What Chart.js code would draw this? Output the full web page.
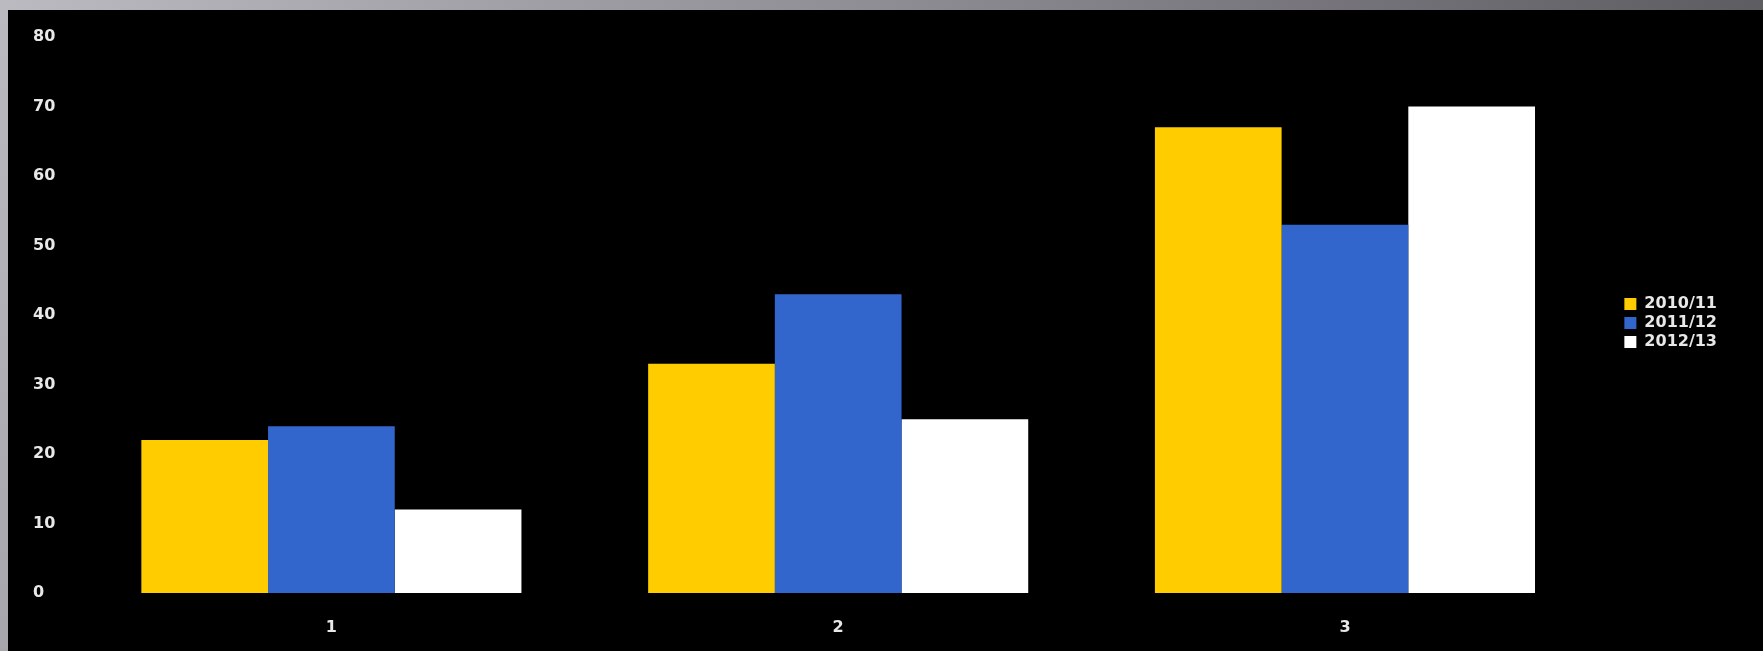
<!DOCTYPE html>
<html>
<head>
<meta charset="utf-8">
<script src="https://cdn.jsdelivr.net/npm/chart.js@4/dist/chart.umd.min.js"></script>
<style>
    html, body { margin: 0; padding: 0; }
    body {
        width: 1763px;
        height: 651px;
        background: #000;
        position: relative;
        overflow: hidden;
    }
    .frame-top {
        position: absolute; left: 0; top: 0; width: 1763px; height: 10px;
        background: linear-gradient(to right, #bcbac1, #8f8d94 50%, #5d5c61);
    }
    .frame-left {
        position: absolute; left: 0; top: 0; width: 8px; height: 651px;
        background: linear-gradient(to bottom, #bcbac1, #a7a5ac);
    }
    .chart-box {
        position: absolute; left: 8px; top: 10px; width: 1755px; height: 641px;
    }
</style>
</head>
<body>
<div class="frame-top"></div>
<div class="frame-left"></div>
<div class="chart-box"><canvas id="seasons-chart" width="1755" height="641"></canvas></div>
<script>
// values
const categories = ['1', '2', '3'];
const seasons = ['2010/11', '2011/12', '2012/13'];
const values2010 = [22, 33, 67];
const values2011 = [24, 43, 53];
const values2012 = [12, 25, 70];
const yTicks = [0, 10, 20, 30, 40, 50, 60, 70, 80];

const colors = {
    yellow: '#ffcc00',
    blue: '#3366cc',
    white: '#ffffff',
    text: '#e8e8e8'
};

Chart.defaults.font.family = '"DejaVu Sans", Verdana, sans-serif';
Chart.defaults.font.weight = 'bold';
Chart.defaults.font.size = 16;
Chart.defaults.color = colors.text;

function makeDataset(label, data, color) {
    return {
        label,
        data,
        backgroundColor: color,
        borderWidth: 0,
        categoryPercentage: 0.75,
        barPercentage: 1.0
    };
}

var ctx = document.getElementById('seasons-chart').getContext('2d');
var config = {
    type: 'bar',
    data: {
        labels: categories,
        datasets: [
            makeDataset(seasons[0], values2010, colors.yellow),
            makeDataset(seasons[1], values2011, colors.blue),
            makeDataset(seasons[2], values2012, colors.white)
        ]
    },
    options: {
        responsive: false,
        animation: false,
        devicePixelRatio: 1,
        layout: {
            padding: { left: 25, top: 27, right: 36, bottom: 14 }
        },
        plugins: {
            tooltip: { enabled: false },
            legend: {
                position: 'right',
                align: 'center',
                fullSize: false,
                // blank title only nudges the items down a little
                title: {
                    display: true,
                    text: ' ',
                    padding: 2,
                    font: { size: 10 }
                },
                labels: {
                    boxWidth: 12,
                    boxHeight: 12,
                    padding: 3,
                    color: colors.text,
                    font: { size: 16, weight: 'bold' }
                }
            }
        },
        scales: {
            x: {
                grid: { display: false, drawTicks: false },
                border: { display: false },
                ticks: { padding: 25 },
                afterFit: (scale) => { scale.height = 44; }
            },
            y: {
                min: 0,
                max: 80,
                grid: { display: false, drawTicks: false },
                border: { display: false },
                afterBuildTicks: (scale) => {
                    scale.ticks = yTicks.map(v => ({ value: v }));
                },
                ticks: { crossAlign: 'far' },
                afterFit: (scale) => { scale.width = 45; }
            },
            // empty spacer between plot and legend
            gap: {
                position: 'right',
                grid: { display: false, drawTicks: false },
                border: { display: false },
                ticks: { display: false },
                afterFit: (scale) => { scale.width = 23; }
            }
        }
    }
};
var seasonsChart = new Chart(ctx, config);
</script>
</body>
</html>
